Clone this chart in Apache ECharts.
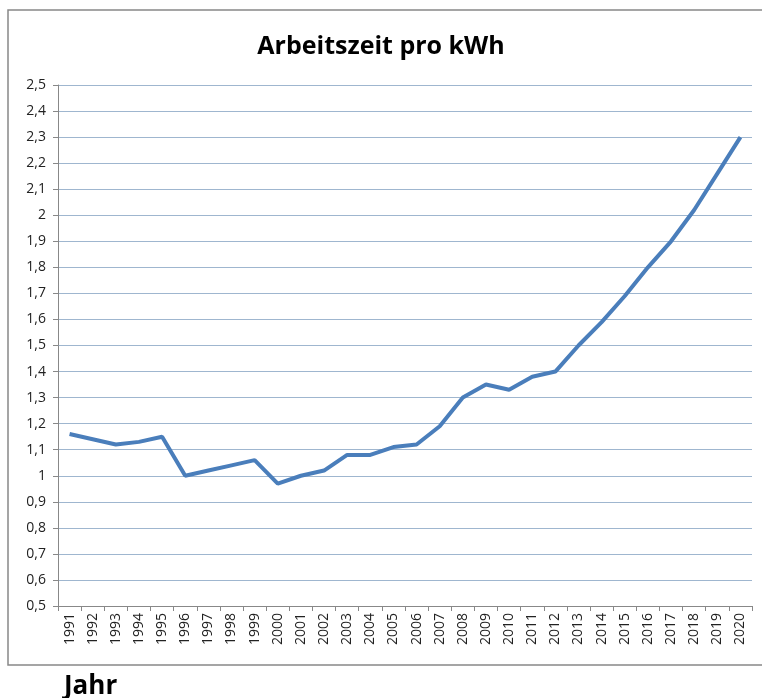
<!DOCTYPE html>
<html><head><meta charset="utf-8">
<script src="https://cdn.jsdelivr.net/npm/echarts@6/dist/echarts.min.js"></script>
<style>html,body{margin:0;padding:0;background:#fff}#c{width:762px;height:698px}</style>
</head><body><div id="c"></div>
<script>
const years = ['1991','1992','1993','1994','1995','1996','1997','1998','1999','2000','2001','2002','2003','2004','2005','2006','2007','2008','2009','2010','2011','2012','2013','2014','2015','2016','2017','2018','2019','2020'];
const values = [1.16,1.14,1.12,1.13,1.15,1.00,1.02,1.04,1.06,0.97,1.00,1.02,1.08,1.08,1.11,1.12,1.19,1.30,1.35,1.33,1.38,1.40,1.50,1.59,1.69,1.80,1.90,2.02,2.16,2.30];
const titleText = 'Arbeitszeit pro kWh';
const xName = 'Jahr';
const chart = echarts.init(document.getElementById('c'));
const font = '"Open Sans", "Liberation Sans", sans-serif';
chart.setOption({
  animation: false,
  title: {text: titleText, left: 'center', top: 29, textStyle: {fontFamily: font, fontSize: 25, fontWeight: 'bold', color: '#000'}},
  graphic: [
    {type: 'rect', shape: {x: 8, y: 10, width: 760, height: 655}, style: {fill: 'none', stroke: '#888', lineWidth: 1.5}, silent: true},
    {type: 'text', left: 64, top: 674, style: {text: xName, font: 'bold 26px ' + font, fill: '#000'}}
  ],
  grid: {left: 58, right: 10, top: 85, bottom: 92},
  xAxis: {
    type: 'category', data: years, boundaryGap: true,
    axisLine: {lineStyle: {color: '#888'}},
    axisTick: {show: true, alignWithLabel: false, lineStyle: {color: '#888'}},
    axisLabel: {rotate: 90, interval: 0, fontFamily: font, fontSize: 14, color: '#222', margin: 7}
  },
  yAxis: {
    type: 'value', min: 0.5, max: 2.5, interval: 0.1,
    axisLine: {show: true, lineStyle: {color: '#888'}},
    axisTick: {show: true, lineStyle: {color: '#888'}},
    splitLine: {lineStyle: {color: '#9fb6cf', width: 1}},
    axisLabel: {fontFamily: font, fontSize: 14, color: '#222', margin: 12, formatter: v => String(Math.round(v*10)/10).replace('.', ',')}
  },
  series: [{type: 'line', data: values, symbol: 'none', lineStyle: {color: '#4a7ebb', width: 4}}]
});
</script></body></html>
